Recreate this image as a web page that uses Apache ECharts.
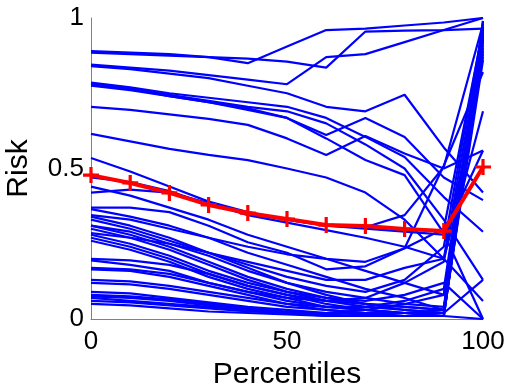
<!DOCTYPE html>
<html>
<head>
<meta charset="utf-8">
<script src="https://cdn.jsdelivr.net/npm/echarts@6/dist/echarts.min.js"></script>
<style>
html,body{margin:0;padding:0;background:#fff;}
#c{width:511px;height:383px;}
</style>
</head>
<body>
<div id="c"></div>
<script>
// Percentile positions
var percentiles = [0, 10, 20, 30, 40, 50, 60, 70, 80, 90, 100];

// Individual risk curves (blue)
var upperCurves = [
  [0.89, 0.885, 0.88, 0.87, 0.85, 0.905, 0.96, 0.965, 0.975, 0.985, 1.0],
  [0.885, 0.88, 0.875, 0.87, 0.865, 0.855, 0.835, 0.955, 0.958, 0.96, 0.965],
  [0.845, 0.835, 0.825, 0.81, 0.795, 0.78, 0.87, 0.88, 0.92, 0.96, 1.0],
  [0.84, 0.83, 0.815, 0.80, 0.775, 0.75, 0.705, 0.69, 0.745, 0.57, 0.42],
  [0.785, 0.77, 0.75, 0.735, 0.72, 0.705, 0.668, 0.605, 0.538, 0.405, 0.29],
  [0.78, 0.765, 0.74, 0.72, 0.695, 0.668, 0.611, 0.668, 0.605, 0.47, 0.395],
  [0.775, 0.76, 0.74, 0.72, 0.70, 0.668, 0.60, 0.528, 0.478, 0.285, 0.0],
  [0.78, 0.765, 0.745, 0.725, 0.705, 0.69, 0.65, 0.58, 0.50, 0.33, 0.13],
  [0.705, 0.695, 0.68, 0.665, 0.645, 0.60, 0.545, 0.608, 0.55, 0.50, 0.56],
  [0.615, 0.59, 0.565, 0.545, 0.528, 0.50, 0.47, 0.42, 0.33, 0.20, 0.06]
];
var lowerCurves = [
  [0.535, 0.49, 0.44, 0.39, 0.355, 0.33, 0.31, 0.305, 0.345, 0.505, 0.98],
  [0.47, 0.455, 0.425, 0.38, 0.35, 0.33, 0.31, 0.30, 0.29, 0.28, 0.56],
  [0.42, 0.43, 0.42, 0.385, 0.345, 0.32, 0.295, 0.27, 0.24, 0.20, 0.69],
  [0.44, 0.41, 0.37, 0.33, 0.28, 0.24, 0.20, 0.16, 0.12, 0.08, 0.95],
  [0.37, 0.37, 0.355, 0.31, 0.255, 0.22, 0.165, 0.175, 0.235, 0.51, 0.82],
  [0.365, 0.34, 0.31, 0.27, 0.22, 0.18, 0.14, 0.10, 0.07, 0.03, 0.93],
  [0.345, 0.33, 0.30, 0.27, 0.24, 0.215, 0.20, 0.19, 0.235, 0.30, 0.96],
  [0.34, 0.31, 0.27, 0.22, 0.17, 0.12, 0.08, 0.05, 0.03, 0.02, 0.88],
  [0.33, 0.30, 0.26, 0.22, 0.18, 0.14, 0.11, 0.09, 0.13, 0.24, 0.97],
  [0.31, 0.29, 0.25, 0.21, 0.16, 0.12, 0.09, 0.07, 0.05, 0.04, 0.92],
  [0.31, 0.28, 0.24, 0.19, 0.14, 0.10, 0.07, 0.05, 0.04, 0.03, 0.99],
  [0.30, 0.27, 0.23, 0.18, 0.13, 0.09, 0.06, 0.04, 0.03, 0.02, 0.86],
  [0.285, 0.27, 0.25, 0.22, 0.19, 0.16, 0.13, 0.13, 0.17, 0.20, 0.94],
  [0.28, 0.25, 0.21, 0.16, 0.12, 0.09, 0.07, 0.06, 0.08, 0.12, 0.0],
  [0.27, 0.24, 0.20, 0.15, 0.11, 0.08, 0.05, 0.03, 0.02, 0.01, 0.97],
  [0.26, 0.23, 0.19, 0.14, 0.10, 0.07, 0.04, 0.03, 0.02, 0.02, 0.90],
  [0.20, 0.195, 0.18, 0.15, 0.11, 0.08, 0.06, 0.05, 0.04, 0.03, 0.95],
  [0.195, 0.18, 0.16, 0.12, 0.09, 0.06, 0.04, 0.03, 0.02, 0.02, 0.99],
  [0.17, 0.165, 0.15, 0.12, 0.09, 0.07, 0.06, 0.07, 0.12, 0.19, 0.87],
  [0.165, 0.16, 0.14, 0.11, 0.08, 0.05, 0.03, 0.02, 0.02, 0.01, 0.93],
  [0.13, 0.125, 0.11, 0.09, 0.07, 0.05, 0.04, 0.04, 0.06, 0.10, 0.96],
  [0.12, 0.115, 0.10, 0.08, 0.06, 0.04, 0.03, 0.02, 0.02, 0.02, 0.13],
  [0.09, 0.085, 0.07, 0.055, 0.04, 0.03, 0.02, 0.02, 0.01, 0.01, 0.98],
  [0.08, 0.075, 0.065, 0.05, 0.035, 0.025, 0.02, 0.015, 0.01, 0.01, 0.91],
  [0.075, 0.07, 0.06, 0.045, 0.03, 0.02, 0.015, 0.01, 0.01, 0.01, 0.0],
  [0.07, 0.06, 0.05, 0.04, 0.03, 0.02, 0.01, 0.01, 0.01, 0.02, 0.94],
  [0.05, 0.045, 0.035, 0.025, 0.02, 0.015, 0.01, 0.01, 0.02, 0.03, 0.89],
  [0.06, 0.055, 0.045, 0.035, 0.025, 0.02, 0.02, 0.03, 0.05, 0.08, 0.97]
];

// Mean risk curve (red)
var meanRisk = [0.478, 0.452, 0.419, 0.379, 0.352, 0.332, 0.312, 0.309, 0.299, 0.292, 0.505];

// Tick labels
var xTicks = [0, 50, 100];
var yTicks = [0, 0.5, 1];

var FONT = 'Liberation Sans, Arial, Helvetica, sans-serif';
var plusPath = 'path://M4,0 H6 V4 H10 V6 H6 V10 H4 V6 H0 V4 H4 Z';

function pairs(arr) {
  return arr.map(function (v, i) { return [percentiles[i], v]; });
}

var series = [];
upperCurves.concat(lowerCurves).forEach(function (c) {
  series.push({
    type: 'line',
    data: pairs(c),
    symbol: 'none',
    silent: true,
    lineStyle: { color: '#0000ff', width: 2.2 },
    z: 2
  });
});
series.push({
  type: 'line',
  data: pairs(meanRisk),
  symbol: plusPath,
  symbolSize: 16,
  itemStyle: { color: '#ff0000' },
  lineStyle: { color: '#ff0000', width: 4 },
  z: 5
});

var chart = echarts.init(document.getElementById('c'), null, { renderer: 'canvas' });
chart.setOption({
  animation: false,
  backgroundColor: '#ffffff',
  grid: { left: 91, right: 28, top: 18, bottom: 64, containLabel: false, outerBoundsMode: 'none' },
  xAxis: {
    type: 'value', min: 0, max: 100, interval: 50,
    name: 'Percentiles', nameLocation: 'middle', nameGap: 39,
    nameTextStyle: { fontFamily: FONT, fontSize: 30, color: '#000' },
    axisLine: { show: true, lineStyle: { color: '#808080', width: 1 } },
    axisTick: { show: false },
    splitLine: { show: false },
    axisLabel: {
      fontFamily: FONT, fontSize: 26, color: '#000', margin: 10,
      customValues: xTicks,
      formatter: function (v) { return String(v); }
    }
  },
  yAxis: {
    type: 'value', min: 0, max: 1, interval: 0.5,
    name: 'Risk', nameLocation: 'middle', nameGap: 57,
    nameTextStyle: { fontFamily: FONT, fontSize: 30, color: '#000' },
    axisLine: { show: true, lineStyle: { color: '#808080', width: 1 } },
    axisTick: { show: false },
    splitLine: { show: false },
    axisLabel: {
      fontFamily: FONT, fontSize: 26, color: '#000', margin: 7,
      customValues: yTicks,
      formatter: function (v) { return String(v); }
    }
  },
  series: series
});
</script>
</body>
</html>
